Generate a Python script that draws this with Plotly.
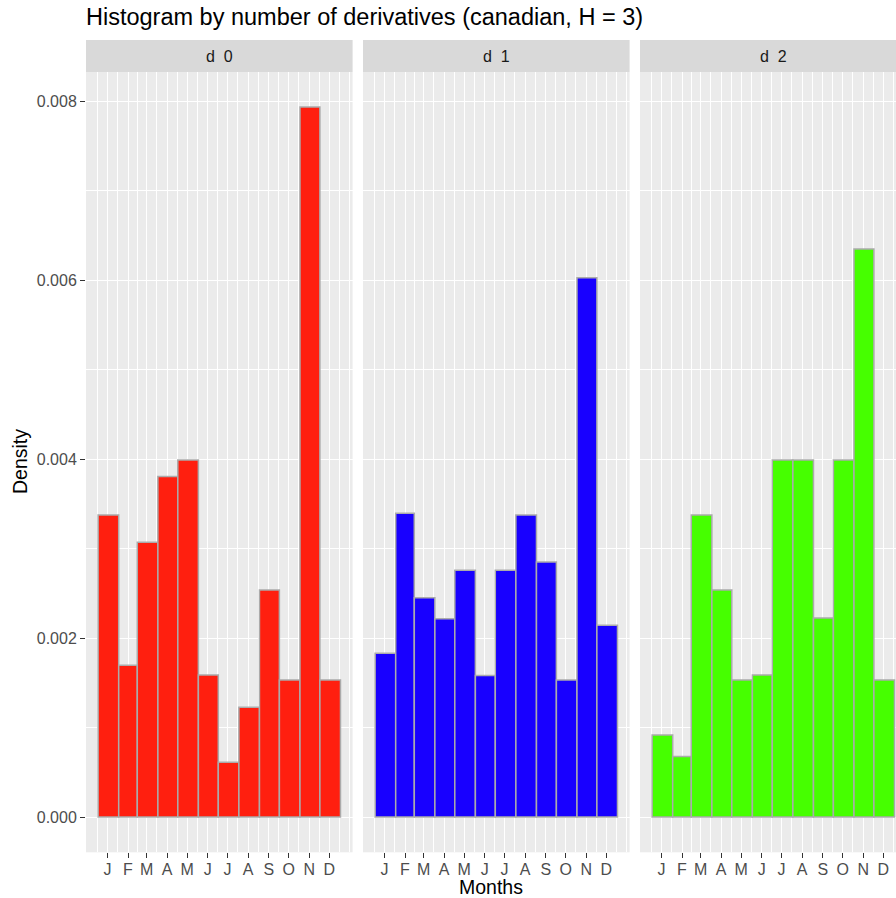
import plotly.graph_objects as go

# ---------------- data ----------------
months = ["J", "F", "M", "A", "M", "J", "J", "A", "S", "O", "N", "D"]
bin_edges = [0, 31, 59, 90, 120, 151, 181, 212, 243, 273, 304, 334, 365]
tick_days = [14, 45, 73, 104, 134, 165, 195, 226, 257, 287, 318, 348]
facet_labels = ["d\u00a0\u00a00", "d\u00a0\u00a01", "d\u00a0\u00a02"]
density_d0 = [0.003374, 0.001695, 0.003069, 0.003806, 0.003989, 0.001587,
              0.000611, 0.001226, 0.002536, 0.001531, 0.007933, 0.001531]
density_d1 = [0.001829, 0.003393, 0.002451, 0.002216, 0.002756, 0.001580,
              0.002756, 0.003374, 0.002849, 0.001531, 0.006026, 0.002142]
density_d2 = [0.000916, 0.000677, 0.003374, 0.002536, 0.001531, 0.001587,
              0.003989, 0.003989, 0.002225, 0.003989, 0.006347, 0.001531]
series = [density_d0, density_d1, density_d2]
fill_colors = ["#FF1F0F", "#1800FF", "#46FF00"]
y_ticks = [0.000, 0.002, 0.004, 0.006, 0.008]
y_minor = [0.001, 0.003, 0.005, 0.007]

# ---------------- layout geometry ----------------
W, H = 896, 898
FONT = "Liberation Sans"
panel_left = [86, 363, 640]
panel_w = 266.6
top_px, bottom_px = 72, 852.3
strip_top = 40
x_lo, x_hi = -18.25, 383.25
y_lo, y_hi = -0.000394, 0.008324

centers = [(a + b) / 2 for a, b in zip(bin_edges[:-1], bin_edges[1:])]
widths = [b - a for a, b in zip(bin_edges[:-1], bin_edges[1:])]

# ggplot-like minor breaks
step = tick_days[1] - tick_days[0]
ext = [tick_days[0] - step] + tick_days + [tick_days[-1] + step]
minor_x = [ext[0]]
for a, b in zip(ext[:-1], ext[1:]):
    minor_x.append((a + b) / 2)
minor_x.append(ext[-1])
minor_x = [m for m in minor_x if m not in tick_days]

fig = go.Figure()
shapes = []
annotations = []

for i, (vals, col) in enumerate(zip(series, fill_colors)):
    sfx = "" if i == 0 else str(i + 1)
    left = panel_left[i]
    right = min(left + panel_w, W)
    xr_hi = x_lo + (right - left) / panel_w * (x_hi - x_lo)
    fig.add_trace(go.Bar(
        x=centers, y=vals, width=widths,
        marker=dict(color=col, line=dict(color="#ABABAB", width=1.5)),
        xaxis="x" + sfx, yaxis="y" + sfx, showlegend=False,
    ))
    xa = dict(
        domain=[left / W, right / W], range=[x_lo, xr_hi], anchor="y" + sfx,
        tickmode="array", tickvals=tick_days, ticktext=months,
        ticks="outside", ticklen=5, tickwidth=1.3, tickcolor="#333333",
        ticklabelstandoff=-3,
        tickfont=dict(family=FONT, size=16, color="#4D4D4D"),
        showgrid=True, gridcolor="white", gridwidth=1.45,
        zeroline=False, showline=False,
        minor=dict(tickmode="array", tickvals=minor_x, showgrid=True,
                   gridcolor="white", gridwidth=0.7, ticks=""),
    )
    ya = dict(
        domain=[1 - bottom_px / H, 1 - top_px / H], range=[y_lo, y_hi],
        anchor="x" + sfx, tickmode="array", tickvals=y_ticks,
        ticktext=["%.3f" % v for v in y_ticks],
        showticklabels=(i == 0), ticks="outside" if i == 0 else "",
        ticklen=5, tickwidth=1.3, tickcolor="#333333",
        tickfont=dict(family=FONT, size=16, color="#4D4D4D"),
        showgrid=True, gridcolor="white", gridwidth=1.45,
        zeroline=False, showline=False,
        minor=dict(tickmode="array", tickvals=y_minor, showgrid=True,
                   gridcolor="white", gridwidth=0.7, ticks=""),
    )
    fig.update_layout(**{"xaxis" + sfx: xa, "yaxis" + sfx: ya})
    shapes.append(dict(type="rect", xref="paper", yref="paper",
                       x0=left / W, x1=right / W,
                       y0=1 - top_px / H, y1=1 - strip_top / H,
                       fillcolor="#D9D9D9", line=dict(width=0), layer="below"))
    annotations.append(dict(text=facet_labels[i], xref="paper", yref="paper",
                            x=(left + panel_w / 2) / W, y=1 - 56 / H,
                            xanchor="center", yanchor="middle", showarrow=False,
                            font=dict(family=FONT, size=16, color="#1A1A1A")))

annotations.append(dict(text="Histogram by number of derivatives (canadian, H = 3)",
                        xref="paper", yref="paper", x=84 / W, y=1 - 17 / H,
                        xanchor="left", yanchor="middle", showarrow=False,
                        font=dict(family=FONT, size=23.5, color="black")))
annotations.append(dict(text="Months", xref="paper", yref="paper",
                        x=491 / W, y=1 - 887 / H, xanchor="center", yanchor="middle",
                        showarrow=False, font=dict(family=FONT, size=19.5, color="black")))
annotations.append(dict(text="Density", xref="paper", yref="paper",
                        x=20 / W, y=1 - 462 / H, xanchor="center", yanchor="middle",
                        textangle=-90, showarrow=False,
                        font=dict(family=FONT, size=19.5, color="black")))

fig.update_layout(
    width=W, height=H, margin=dict(l=0, r=0, t=0, b=0),
    paper_bgcolor="white", plot_bgcolor="#EBEBEB",
    shapes=shapes, annotations=annotations, barmode="overlay",
    font=dict(family=FONT),
)

fig.write_html("out.html")
